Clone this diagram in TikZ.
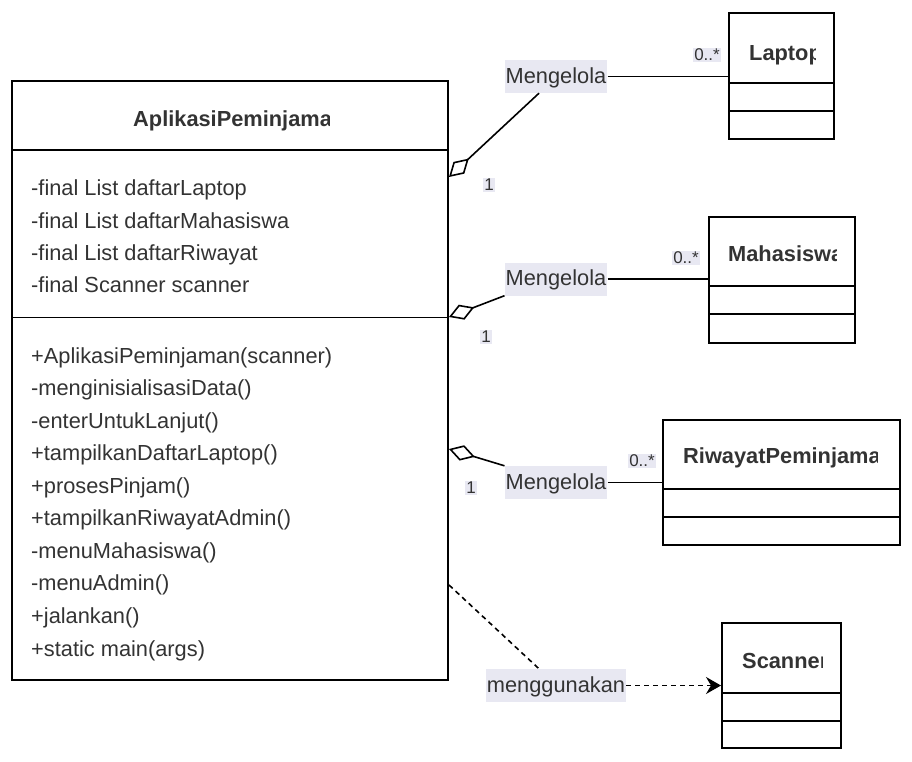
\documentclass[tikz,border=0pt]{standalone}
\usepackage{fontspec}
\setmainfont{Liberation Sans}
\usetikzlibrary{arrows.meta,positioning}
\definecolor{txt}{HTML}{333333}
\definecolor{lblbg}{HTML}{E8E8F2}

\begin{document}
\begin{tikzpicture}[x=1pt, y=-1pt,
    classbox/.style={draw, line width=2pt, inner sep=0pt},
    sepline/.style={line width=1.8pt},
    ctitle/.style={font=\fontsize{21.8}{26}\selectfont\bfseries, text=txt, inner sep=0pt, anchor=base west},
    member/.style={font=\fontsize{21.8}{26}\selectfont, text=txt, inner sep=0pt, anchor=base west},
    lbl/.style={fill=lblbg, text=txt, font=\fontsize{21.8}{26}\selectfont, inner xsep=1pt, inner ysep=0pt,
        minimum height=33pt, text height=16pt, text depth=2.4pt},
    mult/.style={fill=lblbg, text=txt, font=\fontsize{17}{20}\selectfont, inner sep=1pt},
    agg/.style={line width=1.6pt, {Diamond[open, length=27pt, width=16pt]}-},
    assoc/.style={line width=1.6pt},
    dep/.style={line width=1.6pt, dash pattern=on 5pt off 4pt, -{Stealth[length=15pt, width=17pt, inset=5pt]}}]
    \useasboundingbox (0,0) rectangle (912,762);

    % main class
    \node[classbox, minimum width=436pt, minimum height=599pt] (app) at (230,380.5) {};
    \draw[sepline] (app.west |- 0,150) -- (app.east |- 0,150);
    \draw[sepline] (app.west |- 0,317.5) -- (app.east |- 0,317.5);
    \begin{scope}
        \clip (app.north west) rectangle (329,150);
        \node[ctitle] (appname) at (133,127) {AplikasiPeminjaman};
    \end{scope}
    \foreach \m [count=\i from 0] in {-final List daftarLaptop, -final List daftarMahasiswa,
        -final List daftarRiwayat, -final Scanner scanner}
        \node[member] (attr\i) at (31,{196+32.3*\i}) {\m};
    \foreach \m [count=\i from 0] in {+AplikasiPeminjaman(scanner), -menginisialisasiData(),
        -enterUntukLanjut(), +tampilkanDaftarLaptop(), +prosesPinjam(), +tampilkanRiwayatAdmin(),
        -menuMahasiswa(), -menuAdmin(), +jalankan(), +static main(args)}
        \node[member] (op\i) at (31,{363+32.56*\i}) {\m};

    % other classes
    \node[classbox, minimum width=105pt, minimum height=126pt] (laptop) at (781.5,76) {};
    \draw[sepline] (laptop.west |- 0,83) -- (laptop.east |- 0,83);
    \draw[sepline] (laptop.west |- 0,111) -- (laptop.east |- 0,111);
    \begin{scope}
        \clip (laptop.north west) rectangle (815,83);
        \node[ctitle] (laptopname) at (749,61) {Laptop};
    \end{scope}

    \node[classbox, minimum width=146pt, minimum height=126pt] (mhs) at (782,280) {};
    \draw[sepline] (mhs.west |- 0,286) -- (mhs.east |- 0,286);
    \draw[sepline] (mhs.west |- 0,314) -- (mhs.east |- 0,314);
    \begin{scope}
        \clip (mhs.north west) rectangle (836,286);
        \node[ctitle] (mhsname) at (728,261) {Mahasiswa};
    \end{scope}

    \node[classbox, minimum width=237pt, minimum height=125pt] (riwayat) at (781.5,482.5) {};
    \draw[sepline] (riwayat.west |- 0,489) -- (riwayat.east |- 0,489);
    \draw[sepline] (riwayat.west |- 0,517) -- (riwayat.east |- 0,517);
    \begin{scope}
        \clip (riwayat.north west) rectangle (877,489);
        \node[ctitle] (riwayatname) at (683,463) {RiwayatPeminjaman};
    \end{scope}

    \node[classbox, minimum width=119pt, minimum height=125pt] (scanner) at (781.5,685.5) {};
    \draw[sepline] (scanner.west |- 0,693) -- (scanner.east |- 0,693);
    \draw[sepline] (scanner.west |- 0,721) -- (scanner.east |- 0,721);
    \begin{scope}
        \clip (scanner.north west) rectangle (822,693);
        \node[ctitle] (scannername) at (742,668) {Scanner};
    \end{scope}

    % relations
    \node[lbl] (kelola1) at (556,76.5) {Mengelola};
    \node[lbl] (kelola2) at (556,279) {Mengelola};
    \node[lbl] (kelola3) at (556,482.5) {Mengelola};
    \node[lbl] (pakai) at (556,685.5) {menggunakan};

    \draw[agg] (app.east |- 0,177) -- ([xshift=-17pt]kelola1.south);
    \draw[assoc] (kelola1.east) -- (laptop.west |- kelola1.east);
    \draw[agg] (app.east |- 0,317) -- (kelola2.south west);
    \draw[assoc] (kelola2.east) -- (mhs.west |- kelola2.east);
    \draw[agg] (app.east |- 0,449) -- (kelola3.north west);
    \draw[assoc] (kelola3.east) -- (riwayat.west |- kelola3.east);
    \draw[dep, -] (app.east |- 0,585) -- ([xshift=-17pt]pakai.north);
    \draw[dep] (pakai.east) -- (scanner.west |- pakai.east);

    \node[mult] (one1) at (489,185) {1};
    \node[mult] (many1) at (707,55) {0..*};
    \node[mult] (one2) at (486,337) {1};
    \node[mult] (many2) at (686,258) {0..*};
    \node[mult] (one3) at (471,488) {1};
    \node[mult] (many3) at (642,461) {0..*};
\end{tikzpicture}
\end{document}
